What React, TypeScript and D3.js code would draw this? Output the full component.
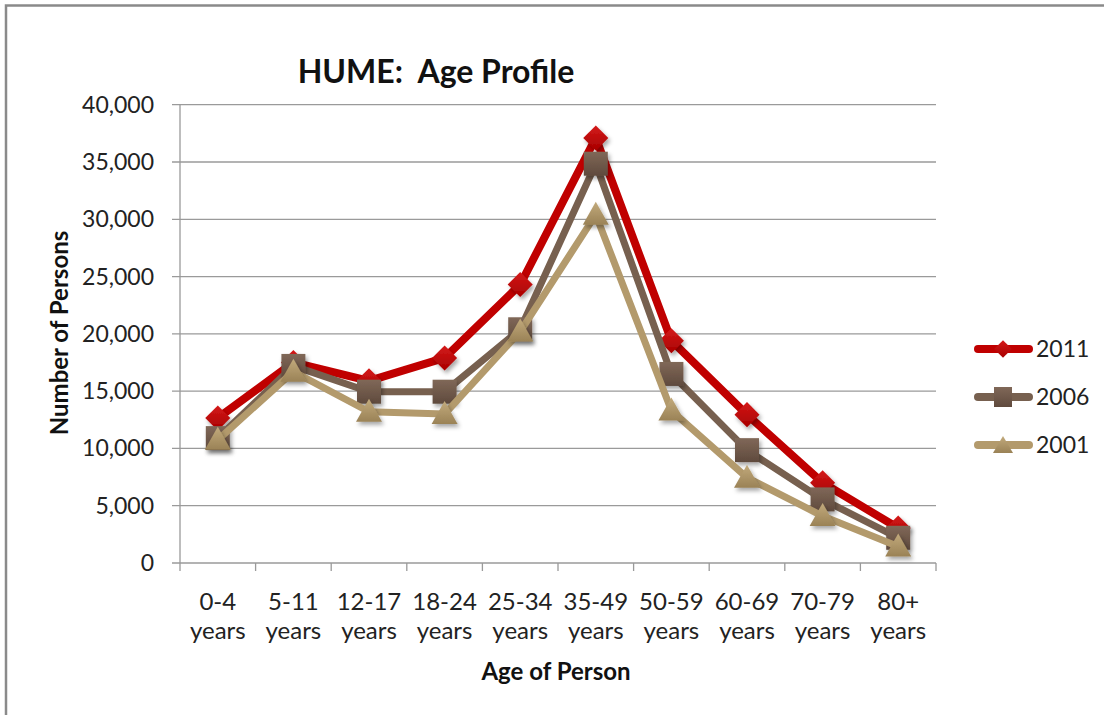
import React from "react";
import * as d3 from "d3";

const categories = ["0-4", "5-11", "12-17", "18-24", "25-34", "35-49", "50-59", "60-69", "70-79", "80+"];
const values2011 = [12650, 17500, 15900, 17900, 24300, 37100, 19400, 12950, 7000, 3050];
const values2006 = [10900, 17200, 14950, 14950, 20400, 34850, 16500, 9850, 5550, 2200];
const values2001 = [10750, 16700, 13200, 13000, 20200, 30400, 13300, 7450, 4100, 1450];
const yTicks = [0, 5000, 10000, 15000, 20000, 25000, 30000, 35000, 40000];
const seriesNames = ["2011", "2006", "2001"];

const W = 1104;
const H = 715;
const FONT = "Lato, 'Noto Sans', sans-serif";

type Series = { name: string; values: number[]; color: string; light: string; dark: string; marker: "diamond" | "square" | "triangle" };

export default function App() {
  const x = d3.scaleBand<string>().domain(categories).range([180, 936]).padding(0);
  const y = d3.scaleLinear().domain([0, 40000]).range([563, 104.7]);
  const cx = (c: string) => (x(c) as number) + x.bandwidth() / 2;

  const series: Series[] = [
    { name: seriesNames[0], values: values2011, color: "#C00000", light: "#D41A1A", dark: "#A80000", marker: "diamond" },
    { name: seriesNames[1], values: values2006, color: "#77604F", light: "#806858", dark: "#5F4A3D", marker: "square" },
    { name: seriesNames[2], values: values2001, color: "#B39A6C", light: "#C2AA7C", dark: "#9A8256", marker: "triangle" },
  ];

  const line = d3
    .line<number>()
    .x((_, i) => cx(categories[i]))
    .y((d) => y(d));

  const markerPath = (m: Series["marker"]) => {
    if (m === "diamond") return d3.symbol(d3.symbolDiamond2, 400)() as string;
    if (m === "square") return "M-12,-12H12V12H-12Z";
    return "M0,-13L13,10H-13Z";
  };

  const legendY = [349, 397, 445];

  return (
    <svg width={W} height={H} style={{ position: "absolute", left: 0, top: 0, background: "#fff" }} fontFamily={FONT}>
      <defs>
        <filter id="sh" x="-50%" y="-50%" width="200%" height="200%">
          <feDropShadow dx="2" dy="3" stdDeviation="2" floodColor="#000" floodOpacity="0.35" />
        </filter>
        {series.map((s) => (
          <linearGradient key={s.name} id={`g${s.name}`} x1="0" y1="0" x2="0" y2="1">
            <stop offset="0" stopColor={s.light} />
            <stop offset="1" stopColor={s.dark} />
          </linearGradient>
        ))}
      </defs>
      <rect x={0} y={0} width={W} height={H} fill="#fff" />
      {/* outer frame */}
      <path d={`M6,${H + 5}V5.5H${W + 5}`} fill="none" stroke="#8a8a8a" strokeWidth={2.5} />

      {/* gridlines */}
      {yTicks.map((t) => (
        <g key={t}>
          <line x1={172} x2={936} y1={y(t)} y2={y(t)} stroke="#9a9a9a" strokeWidth={1.3} />
          <text x={154} y={y(t)} dy="0.35em" textAnchor="end" fontSize={23} fill="#222">
            {d3.format(",")(t)}
          </text>
        </g>
      ))}
      {/* y axis */}
      <line x1={180} x2={180} y1={y(40000)} y2={y(0)} stroke="#9a9a9a" strokeWidth={1.3} />
      {/* x ticks */}
      {d3.range(categories.length + 1).map((i) => {
        const xx = 180 + i * x.bandwidth();
        return <line key={i} x1={xx} x2={xx} y1={y(0)} y2={y(0) + 8} stroke="#9a9a9a" strokeWidth={1.3} />;
      })}
      {categories.map((c) => (
        <text key={c} x={cx(c)} textAnchor="middle" fontSize={24} fill="#222">
          <tspan x={cx(c)} y={610}>{c}</tspan>
          <tspan x={cx(c)} y={639}>years</tspan>
        </text>
      ))}

      {/* series */}
      {series.map((s) => (
        <g key={s.name}>
          <path d={line(s.values) as string} fill="none" stroke={s.color} strokeWidth={s.marker === "diamond" ? 8 : 7} strokeLinejoin="round" strokeLinecap="round" />
          {s.values.map((v, i) => (
            <path
              key={i}
              d={markerPath(s.marker)}
              transform={`translate(${cx(categories[i])},${y(v)})`}
              fill={`url(#g${s.name})`}
              filter="url(#sh)"
            />
          ))}
        </g>
      ))}

      {/* title */}
      <text x={436} y={83} textAnchor="middle" fontSize={32} fontWeight="bold" fill="#111" style={{ whiteSpace: "pre" }}>
        {"HUME:  Age Profile"}
      </text>
      {/* axis titles */}
      <text transform="translate(68,333) rotate(-90)" textAnchor="middle" fontSize={24} fontWeight="bold" fill="#111">
        Number of Persons
      </text>
      <text x={556} y={680} textAnchor="middle" fontSize={24} fontWeight="bold" fill="#111">
        Age of Person
      </text>

      {/* legend */}
      {series.map((s, i) => (
        <g key={s.name}>
          <line x1={978} x2={1029} y1={legendY[i]} y2={legendY[i]} stroke={s.color} strokeWidth={8} strokeLinecap="round" />
          <path
            d={s.marker === "diamond" ? (d3.symbol(d3.symbolDiamond2, 200)() as string) : s.marker === "square" ? "M-9,-10H9V10H-9Z" : "M0,-9L10,8H-10Z"}
            transform={`translate(1003,${legendY[i]})`}
            fill={`url(#g${s.name})`}
          />
          <text x={1036} y={legendY[i]} dy="0.35em" fontSize={23} fill="#222">
            {s.name}
          </text>
        </g>
      ))}
    </svg>
  );
}
